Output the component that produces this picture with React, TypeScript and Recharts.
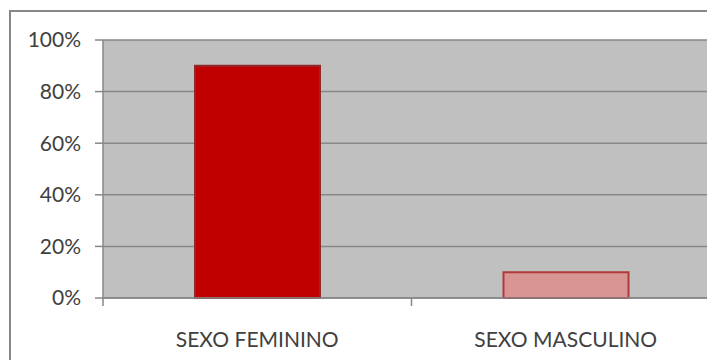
import { BarChart, Bar, XAxis, YAxis, CartesianGrid, Cell } from "recharts";

// Distribuição por sexo (percentual)
const categories = ["SEXO FEMININO", "SEXO MASCULINO"];
const percentages = [90, 10];
const yTicks = [0, 20, 40, 60, 80, 100];

const barColors = ["#c00000", "#d99594"];
const barStrokes = ["#8e2a2a", "#b03a3a"];

const data = categories.map((name, i) => ({ name, value: percentages[i] }));

const FONT = "Lato, 'Open Sans', sans-serif";
const TEXT = "#404040";
const LINE = "#878787";
const X_TICK_MARGIN = 0;

// tick do eixo X: rótulo no centro + marcas nos limites da categoria
function CategoryTick(props: any) {
  const { x, y, payload, index, visibleTicksCount } = props;
  const half = payload && typeof payload.offset === "number" ? payload.offset : 0;
  const axisY = y - X_TICK_MARGIN;
  const isLast = index === (visibleTicksCount ?? categories.length) - 1;
  return (
    <g>
      {half > 0 && (
        <line x1={x - half} x2={x - half} y1={axisY} y2={axisY + 8} stroke={LINE} strokeWidth={1.5} />
      )}
      {half > 0 && isLast && (
        <line x1={x + half} x2={x + half} y1={axisY} y2={axisY + 8} stroke={LINE} strokeWidth={1.5} />
      )}
      <text
        x={x}
        y={axisY + 49}
        textAnchor="middle"
        fill={TEXT}
        fontSize={21}
        fontFamily={FONT}
      >
        {payload.value}
      </text>
    </g>
  );
}

export default function App() {
  return (
    <div
      style={{
        position: "absolute",
        left: 0,
        top: 0,
        width: 707,
        height: 360,
        overflow: "hidden",
        background: "#ffffff",
      }}
    >
      <div
        style={{
          position: "absolute",
          left: 9,
          top: 10,
          width: 800,
          height: 500,
          border: `2px solid ${LINE}`,
          boxSizing: "border-box",
        }}
      />
      <div style={{ position: "absolute", left: 0, top: 0 }}>
        <BarChart
          width={800}
          height={420}
          data={data}
          margin={{ top: 40, right: 80, left: 0, bottom: 62 }}
          barSize={125}
        >
          <CartesianGrid
            vertical={false}
            fill="#c0c0c0"
            stroke={LINE}
            strokeWidth={1.5}
          />
          <XAxis
            dataKey="name"
            height={60}
            axisLine={{ stroke: LINE, strokeWidth: 1.5 }}
            tickLine={false}
            tickSize={0}
            tickMargin={X_TICK_MARGIN}
            tick={<CategoryTick />}
            interval={0}
          />
          <YAxis
            width={103}
            domain={[0, 100]}
            ticks={yTicks}
            interval={0}
            tickFormatter={(v: number) => `${v}%`}
            axisLine={{ stroke: LINE, strokeWidth: 1.5 }}
            tickLine={{ stroke: LINE, strokeWidth: 1.5 }}
            tickSize={8}
            tickMargin={14}
            tick={{ fill: TEXT, fontSize: 21, fontFamily: FONT }}
          />
          <Bar dataKey="value" isAnimationActive={false} strokeWidth={2}>
            {data.map((d, i) => (
              <Cell key={d.name} fill={barColors[i]} stroke={barStrokes[i]} />
            ))}
          </Bar>
        </BarChart>
      </div>
    </div>
  );
}
